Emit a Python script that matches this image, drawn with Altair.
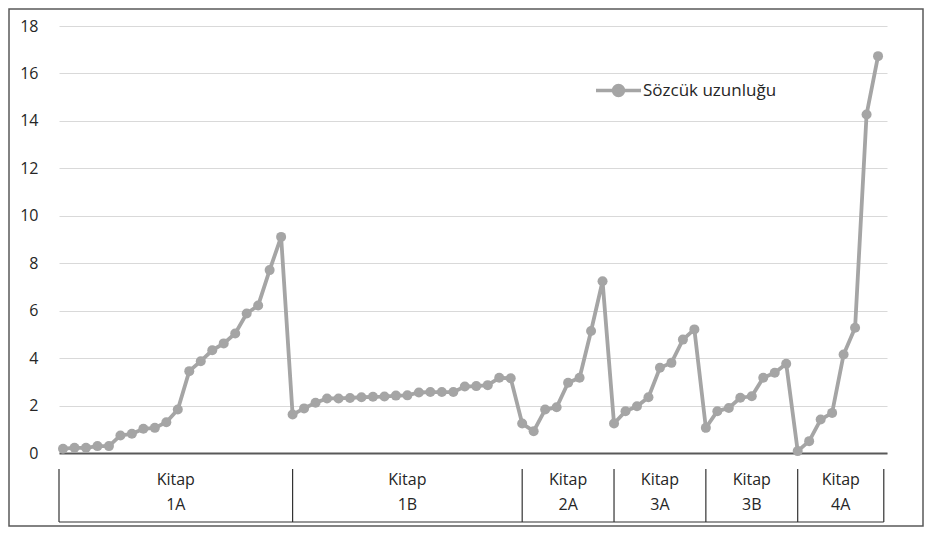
import altair as alt
import pandas as pd

series_name = "Sözcük uzunluğu"
groups = ["1A", "1B", "2A", "3A", "3B", "4A"]
group_sizes = [20, 20, 8, 8, 8, 8]
values = [
    # Kitap 1A
    0.18, 0.22, 0.22, 0.29, 0.29, 0.74, 0.81, 1.02, 1.06, 1.30,
    1.83, 3.45, 3.87, 4.33, 4.62, 5.04, 5.88, 6.22, 7.71, 9.11,
    # Kitap 1B
    1.62, 1.88, 2.12, 2.30, 2.30, 2.32, 2.35, 2.37, 2.38, 2.42,
    2.43, 2.55, 2.57, 2.57, 2.57, 2.80, 2.82, 2.86, 3.17, 3.15,
    # Kitap 2A
    1.24, 0.92, 1.83, 1.93, 2.96, 3.17, 5.14, 7.24,
    # Kitap 3A
    1.24, 1.76, 1.97, 2.35, 3.59, 3.80, 4.78, 5.21,
    # Kitap 3B
    1.06, 1.76, 1.90, 2.33, 2.39, 3.17, 3.38, 3.76,
    # Kitap 4A
    0.08, 0.50, 1.41, 1.69, 4.15, 5.28, 14.27, 16.73,
]
y_ticks = [0, 2, 4, 6, 8, 10, 12, 14, 16, 18]

W, H = 828, 427
PAD = {"left": 51, "top": 18, "right": 37, "bottom": 74}
LINE_COLOR = "#a5a5a5"
TEXT_COLOR = "#262626"
FONT = "Open Sans"

df = pd.DataFrame({"i": list(range(len(values))), "v": values, "s": series_name})

# group boundaries (category index units)
starts = [0]
for n in group_sizes[:-1]:
    starts.append(starts[-1] + n)
x_min, x_max = -0.35, 71.78
edges = [x_min] + starts[1:] + [len(values) - 0.5]
div_df = pd.DataFrame({"x": edges})
lab_df = pd.DataFrame({
    "x": [(edges[k] + edges[k + 1]) / 2 for k in range(len(groups))],
    "t": ["Kitap\n" + g for g in groups],
})
base_line_df = pd.DataFrame({"x": [edges[0]], "x2": [edges[-1]]})

xscale = alt.Scale(domain=[x_min, x_max], nice=False, zero=False)
yscale = alt.Scale(domain=[0, 18], nice=False)

color = alt.Color(
    "s:N",
    scale=alt.Scale(domain=[series_name], range=[LINE_COLOR]),
    legend=alt.Legend(
        title=None, orient="none", legendX=551, legendY=56,
        symbolType="M -4.5 0 L 4.5 0 M -1 0 A 1 1 0 1 1 1 0 A 1 1 0 1 1 -1 0 Z",
        symbolSize=100, symbolStrokeWidth=3.5, symbolFillColor=LINE_COLOR,
        symbolStrokeColor=LINE_COLOR, symbolOpacity=1,
        labelFont=FONT, labelFontSize=17, labelColor=TEXT_COLOR, labelOffset=16,
    ),
)

line = alt.Chart(df).mark_line(strokeWidth=3.8).encode(
    x=alt.X("i:Q", scale=xscale,
            axis=alt.Axis(labels=False, ticks=False, grid=False, title=None,
                          domain=True, domainColor="#595959", domainWidth=2)),
    y=alt.Y("v:Q", scale=yscale,
            axis=alt.Axis(values=y_ticks, title=None, domain=False, ticks=False,
                          grid=True, gridColor="#d9d9d9", gridWidth=1,
                          labelFont=FONT, labelFontSize=16, labelColor=TEXT_COLOR,
                          labelPadding=21)),
    color=color,
)

points = alt.Chart(df).mark_point(filled=True, size=100, opacity=1).encode(
    x=alt.X("i:Q", scale=xscale),
    y=alt.Y("v:Q", scale=yscale),
    color=alt.Color("s:N", scale=alt.Scale(domain=[series_name], range=[LINE_COLOR]), legend=None),
)

dividers = alt.Chart(div_df).mark_rule(color="#333333", strokeWidth=1.2).encode(
    x=alt.X("x:Q", scale=xscale),
    y=alt.value(443),
    y2=alt.value(496),
)

bottom_line = alt.Chart(base_line_df).mark_rule(color="#333333", strokeWidth=1.2).encode(
    x=alt.X("x:Q", scale=xscale),
    x2="x2:Q",
    y=alt.value(496),
)

labels = alt.Chart(lab_df).mark_text(
    font=FONT, fontSize=16, color=TEXT_COLOR, lineBreak="\n", lineHeight=25,
    align="center", baseline="middle",
).encode(
    x=alt.X("x:Q", scale=xscale),
    y=alt.value(454),
    text="t:N",
)

frame = alt.Chart(pd.DataFrame({"k": [0]})).mark_rect(
    fill=None, stroke="#595959", strokeWidth=1.5
).encode(
    x=alt.value(-PAD["left"] + 1),
    x2=alt.value(W + PAD["right"] - 1),
    y=alt.value(-PAD["top"] + 1),
    y2=alt.value(H + PAD["bottom"] - 1),
)

chart = alt.layer(line, points, dividers, bottom_line, labels, frame).properties(
    width=W, height=H,
    autosize=alt.AutoSizeParams(type="none"),
    padding=PAD,
    background="white",
).configure_view(stroke=None)

chart.save("out.html", embed_options={"renderer": "svg", "actions": False})
